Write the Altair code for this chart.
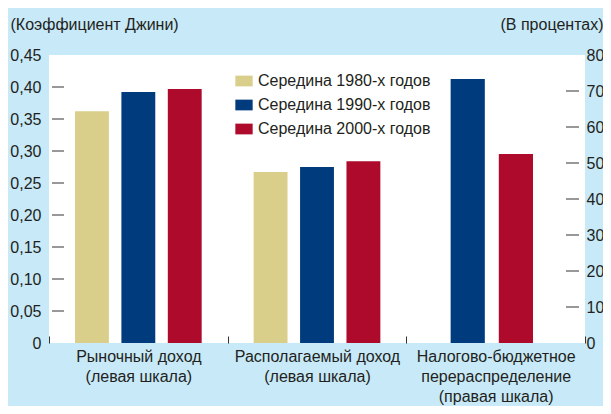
import altair as alt
import pandas as pd

# ---- data ----
categories = [
    "Рыночный доход|(левая шкала)",
    "Располагаемый доход|(левая шкала)",
    "Налогово-бюджетное|перераспределение|(правая шкала)",
]
series = ["Середина 1980-х годов", "Середина 1990-х годов", "Середина 2000-х годов"]
colors = ["#d9cf8a", "#003c7d", "#ad0a2c"]

market_income = [0.362, 0.392, 0.397]        # left scale (Gini)
disposable_income = [0.267, 0.275, 0.284]    # left scale (Gini)
redistribution_series = ["Середина 1990-х годов", "Середина 2000-х годов"]
redistribution = [73.3, 52.5]                # right scale (percent)

left_ticks = [0.05, 0.10, 0.15, 0.20, 0.25, 0.30, 0.35, 0.40]
right_ticks = [10, 20, 30, 40, 50, 60, 70]
left_labels = [0, 0.05, 0.10, 0.15, 0.20, 0.25, 0.30, 0.35, 0.40, 0.45]
right_labels = [0, 10, 20, 30, 40, 50, 60, 70, 80]

FONT = "Liberation Sans, Arial, Helvetica"
FS = 16
TXT = "#231f20"
BG = "#c7e9f8"

df_left = pd.DataFrame({
    "category": [categories[0]] * 3 + [categories[1]] * 3,
    "series": series + series,
    "value": market_income + disposable_income,
})
df_right = pd.DataFrame({
    "category": [categories[2]] * 2,
    "series": redistribution_series,
    "value": redistribution,
})
df_lt = pd.DataFrame({"value": left_ticks})
df_rt = pd.DataFrame({"value": right_ticks})

x_axis = alt.Axis(
    title=None, domain=False, tickBand="extent", tickSize=7, offset=-7,
    tickColor="#333333", tickWidth=1, labelPadding=5, labelLimit=0,
    labelExpr="split(datum.label, '|')", labelAngle=0,
    labelFont=FONT, labelFontSize=FS, labelColor=TXT, labelLineHeight=20,
    labelBaseline="top",
)
x_enc = alt.X("category:N", sort=categories,
              scale=alt.Scale(domain=categories, paddingInner=0, paddingOuter=0),
              axis=x_axis)
xo_left = alt.XOffset("series:N",
                      scale=alt.Scale(domain=series, paddingInner=0.27, paddingOuter=0.56))
xo_right = alt.XOffset("series:N",
                       scale=alt.Scale(domain=redistribution_series, paddingInner=0.29,
                                       paddingOuter=1, align=0.46))
color_enc = alt.Color(
    "series:N", scale=alt.Scale(domain=series, range=colors),
    legend=alt.Legend(
        title=None, orient="none", legendX=186, legendY=17,
        symbolType="M-1,-0.62H1V0.62H-1Z", symbolSize=300, symbolStrokeWidth=0,
        labelFont=FONT, labelFontSize=FS, labelColor=TXT, rowPadding=7,
        labelOffset=5, labelLimit=0,
    ),
)

y_left_scale = alt.Scale(domain=[0, 0.45], nice=False)
y_right_scale = alt.Scale(domain=[0, 80], nice=False)

left_axis = alt.Axis(
    values=left_labels, domain=False, ticks=False, grid=False,
    labelExpr="datum.value == 0 ? '0' : replace(format(datum.value, '.2f'), '.', ',')",
    labelFont=FONT, labelFontSize=FS, labelColor=TXT, labelPadding=8,
    title="(Коэффициент Джини)", titleAngle=0, titleX=-39, titleY=-26,
    titleAlign="left", titleBaseline="alphabetic",
    titleFont=FONT, titleFontSize=FS, titleFontWeight="normal", titleColor=TXT,
)
right_axis = alt.Axis(
    orient="right", values=right_labels, domain=False, ticks=False, grid=False,
    labelFont=FONT, labelFontSize=FS, labelColor=TXT, labelPadding=1,
    title="(В процентах)", titleAngle=0, titleX=18, titleY=-26,
    titleAlign="right", titleBaseline="alphabetic",
    titleFont=FONT, titleFontSize=FS, titleFontWeight="normal", titleColor=TXT,
)

bars_left = alt.Chart(df_left).mark_bar().encode(
    x=x_enc, xOffset=xo_left,
    y=alt.Y("value:Q", scale=y_left_scale, axis=left_axis),
    color=color_enc,
)
ticks_left = alt.Chart(df_lt).mark_rule(color="#333333", strokeWidth=1).encode(
    y=alt.Y("value:Q", scale=y_left_scale, axis=left_axis),
    x=alt.value(3), x2=alt.value(15),
)
bars_right = alt.Chart(df_right).mark_bar().encode(
    x=x_enc, xOffset=xo_right,
    y=alt.Y("value:Q", scale=y_right_scale, axis=right_axis),
    color=color_enc,
)
ticks_right = alt.Chart(df_rt).mark_rule(color="#333333", strokeWidth=1).encode(
    y=alt.Y("value:Q", scale=y_right_scale, axis=right_axis),
    x=alt.value(517), x2=alt.value(530),
)

chart = alt.layer(
    alt.layer(bars_left, ticks_left),
    alt.layer(bars_right, ticks_right),
).resolve_scale(y="independent", xOffset="independent").properties(
    width=536, height=288,
    background=BG,
    padding={"left": 41, "top": 47, "right": 18, "bottom": 63},
    autosize=alt.AutoSizeParams(type="none"),
).configure_view(stroke=None, fill="white")

chart.save("out.html", embed_options={"renderer": "svg", "actions": False})
